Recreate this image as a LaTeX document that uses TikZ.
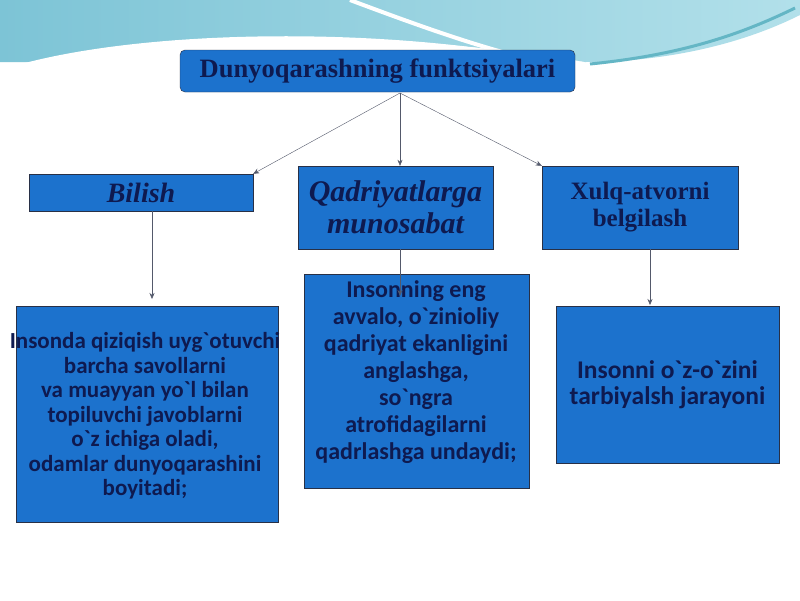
\documentclass[tikz,border=0pt]{standalone}
\usepackage{fontspec}
\setmainfont{Liberation Serif}
\newfontfamily\bodyfont{Carlito}
\usetikzlibrary{arrows.meta,positioning,calc}
\definecolor{boxblue}{RGB}{28,114,205}
\definecolor{inkblue}{RGB}{14,26,80}
\definecolor{edgegray}{RGB}{40,48,70}
\definecolor{wavea}{RGB}{125,196,214}
\definecolor{waveb}{RGB}{178,224,234}
\tikzset{
  panel/.style={draw=edgegray,fill=boxblue,text=inkblue,inner sep=0pt,align=center},
  body/.style={text=inkblue,align=center,inner sep=0pt},
  link/.style={draw=edgegray!80,-{Stealth[length=6pt,width=5pt]}},
}
\begin{document}
\begin{tikzpicture}[x=1pt,y=-1pt]
  \useasboundingbox (0,0) rectangle (800,600);
  \fill[white] (0,0) rectangle (800,600);
  \shade[left color=wavea,right color=waveb]
    (0,0) -- (800,0) -- (800,15) .. controls (730,50) and (650,62) .. (585,62)
    .. controls (430,35) and (200,28) .. (40,62) -- (0,62) -- cycle; % 上部の波
  \draw[white,line width=7pt] (20,68) .. controls (150,32) and (400,28) .. (585,70); % 白い帯
  \draw[white,line width=4pt] (350,0) .. controls (430,30) and (500,55) .. (570,68); % 白い筋
  \draw[wavea!80!teal,line width=3pt] (590,64) .. controls (680,55) and (740,35) .. (795,8); % 右の筋

  \node[panel,rounded corners=5pt,minimum width=395pt,minimum height=42pt,
        font=\fontsize{26.5}{30}\selectfont\bfseries] (title) at (377.5,71) {Dunyoqarashning funktsiyalari};
  \node[panel,minimum width=224pt,minimum height=37pt,
        font=\fontsize{28}{30}\selectfont\bfseries\itshape] (bilish) at (141,192.5) {Bilish};
  \node[panel,minimum width=195pt,minimum height=83pt,
        font=\fontsize{30}{32}\selectfont\bfseries\itshape] (qadr) at (395.5,207.5) {Qadriyatlarga\\munosabat};
  \node[panel,minimum width=196pt,minimum height=83pt,
        font=\fontsize{25}{27}\selectfont\bfseries] (xulq) at (640,207.5) {Xulq-atvorni\\belgilash};

  \node[panel,minimum width=262pt,minimum height=216pt] (b1) at (147,414) {};
  \node[body,font=\bodyfont\fontsize{23}{24.5}\selectfont\bfseries] (t1) at (145,416)
    {Insonda qiziqish uyg`otuvchi\\barcha savollarni\\va muayyan yo`l bilan\\topiluvchi javoblarni\\o`z ichiga oladi,\\odamlar dunyoqarashini\\boyitadi;};
  \node[panel,minimum width=225pt,minimum height=214pt] (b2) at (416.5,381) {};
  \node[body,font=\bodyfont\fontsize{24}{27}\selectfont\bfseries] (t2) at (416,372)
    {Insonning eng\\avvalo, o`zinioliy\\qadriyat ekanligini\\anglashga,\\so`ngra\\atrofidagilarni\\qadrlashga undaydi;};
  \node[panel,minimum width=223pt,minimum height=157pt,
        font=\bodyfont\fontsize{25.5}{26}\selectfont\bfseries] (b3) at (667.5,384.5)
    {Insonni o`z-o`zini\\tarbiyalsh jarayoni};

  \coordinate (hub) at (400,93); % 見出しからの分岐点
  \coordinate (q2) at (400,296); % 中央の矢印の先
  \coordinate (b1top) at (152,299); % 左の矢印の先
  \coordinate (b3top) at (650,305); % 右の矢印の先
  \draw[link] (hub) -- (bilish.north east);
  \draw[link] (hub) -- (hub |- qadr.north);
  \draw[link] (hub) -- (xulq.north west);
  \draw[link] (bilish.south -| b1top) -- (b1top);
  \draw[link] (qadr.south -| q2) -- (q2);
  \draw[link] (xulq.south -| b3top) -- (b3top);
\end{tikzpicture}
\end{document}
